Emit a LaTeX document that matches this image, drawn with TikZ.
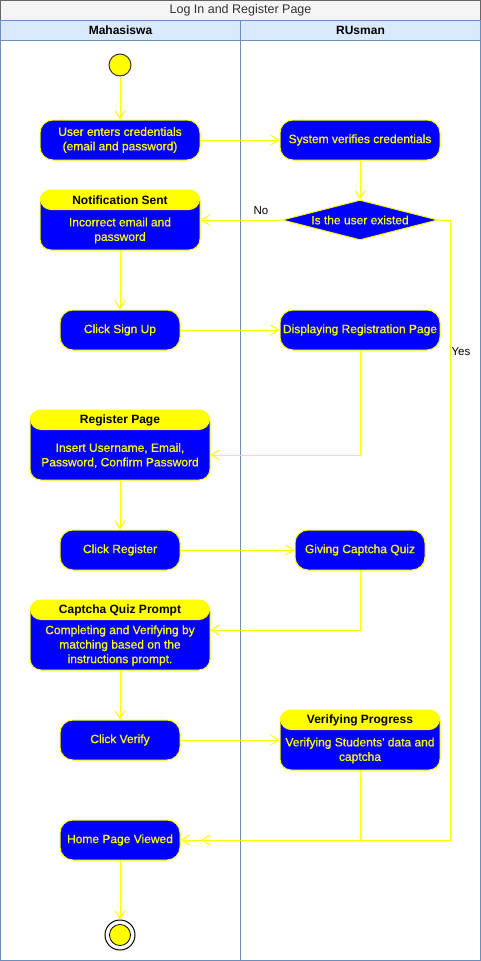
\documentclass[tikz,border=0pt]{standalone}
\usepackage{fontspec}
\setmainfont{Liberation Sans}
\newfontfamily\actfont[FakeBold=0.6]{Liberation Sans}
\usetikzlibrary{arrows.meta,shapes.geometric}
\definecolor{ablue}{HTML}{0000FF}
\definecolor{ayel}{HTML}{FFFF00}
\definecolor{lanebd}{HTML}{6C8EBF}
\definecolor{lanehd}{HTML}{DAE8FC}
\definecolor{titlebg}{HTML}{F5F5F5}
\definecolor{titlebd}{HTML}{666666}
\definecolor{titletx}{HTML}{333333}
\begin{document}
\begin{tikzpicture}[x=1pt,y=-1pt,
  act/.style={rectangle, rounded corners=13pt, draw=ayel, fill=ablue, line width=1pt,
    text=ayel, font=\actfont\fontsize{12}{14.5}\selectfont, align=center, inner sep=0pt},
  swim/.style={rectangle, rounded corners=11pt, draw=ayel, fill=ablue, line width=1pt, inner sep=0pt,
    path picture={\fill[ayel] (path picture bounding box.north west) rectangle ([yshift=-20pt]path picture bounding box.north east);}},
  swimhead/.style={font=\fontsize{12}{14}\selectfont\bfseries, text=black, inner sep=0pt},
  swimbody/.style={font=\actfont\fontsize{12}{14.5}\selectfont, text=ayel, align=center, inner sep=0pt},
  dec/.style={diamond, aspect=3.9, draw=ayel, fill=ablue, line width=1pt, inner sep=0pt,
    minimum width=156pt, minimum height=40pt, text=ayel, font=\actfont\fontsize{12}{14}\selectfont},
  flow/.style={draw=ayel, line width=1pt, -{Straight Barb[length=8pt,width=10pt]}},
  lbl/.style={font=\fontsize{11.5}{13}\selectfont, text=black, inner sep=0pt},
  lanehead/.style={font=\fontsize{12}{14}\selectfont\bfseries, text=black, inner sep=0pt}
]
\useasboundingbox (0,0) rectangle (481,961);
% pool and lanes
\draw[titlebd, fill=titlebg, line width=1pt] (0.5,0.5) rectangle (480.5,20.5);
\node[font=\fontsize{12.5}{14}\selectfont, text=titletx, inner sep=0pt] (title) at (240.5,10.5) {Log In and Register Page};
\draw[lanebd, fill=lanehd, line width=1pt] (0.5,20.5) rectangle (240.5,40.5);
\draw[lanebd, fill=lanehd, line width=1pt] (240.5,20.5) rectangle (480.5,40.5);
\draw[lanebd, line width=1pt] (0.5,40.5) rectangle (240.5,960.5);
\draw[lanebd, line width=1pt] (240.5,40.5) rectangle (480.5,960.5);
\node[lanehead] (laneA) at (120.5,30.5) {Mahasiswa};
\node[lanehead] (laneB) at (360.5,30.5) {RUsman};

% nodes
\node[circle, minimum size=22pt, inner sep=0pt, fill=ayel, draw=titletx, line width=1pt] (start) at (120,65) {};
\node[act, minimum width=160pt, minimum height=40pt] (n1) at (120,140) {User enters credentials\\(email and password)};
\node[act, minimum width=160pt, minimum height=40pt] (n2) at (360,140) {System verifies credentials};
\node[dec] (d1) at (360,220) {Is the user existed};

\node[swim, minimum width=160pt, minimum height=60pt] (notif) at (120,220) {};
\node[swimhead] (notifh) at (120,200.5) {Notification Sent};
\node[swimbody] (notifb) at (120,230.5) {Incorrect email and\\password};

\node[act, minimum width=120pt, minimum height=40pt] (signup) at (120,330) {Click Sign Up};
\node[act, minimum width=160pt, minimum height=40pt] (disp) at (360,330) {Displaying Registration Page};

\node[swim, minimum width=180pt, minimum height=70pt] (reg) at (120,445) {};
\node[swimhead] (regh) at (120,420.5) {Register Page};
\node[swimbody] (regb) at (120,455.5) {Insert Username, Email,\\Password, Confirm Password};

\node[act, minimum width=120pt, minimum height=40pt] (clickreg) at (120,550) {Click Register};
\node[act, minimum width=130pt, minimum height=40pt] (captcha) at (360,550) {Giving Captcha Quiz};

\node[swim, minimum width=180pt, minimum height=70pt] (prompt) at (120,635) {};
\node[swimhead] (prompth) at (120,610.5) {Captcha Quiz Prompt};
\node[swimbody] (promptb) at (120,645.5) {Completing and Verifying by\\matching based on the\\instructions prompt.};

\node[act, minimum width=120pt, minimum height=40pt] (verify) at (120,740) {Click Verify};

\node[swim, minimum width=160pt, minimum height=60pt] (vprog) at (360,740) {};
\node[swimhead] (vprogh) at (360,720.5) {Verifying Progress};
\node[swimbody] (vprogb) at (360,750.5) {Verifying Students' data and\\captcha};

\node[act, minimum width=120pt, minimum height=40pt] (home) at (120,840) {Home Page Viewed};

\node[circle, minimum size=30pt, inner sep=0pt, fill=white, draw=black, line width=1pt] (endo) at (120,935) {};
\node[circle, minimum size=21pt, inner sep=0pt, fill=ayel, draw=black, line width=0.8pt] (endi) at (endo.center) {};

% labels
\node[lbl] (no) at (261,211) {No};
\node[lbl] (yes) at (461,351.5) {Yes};

% connectors
\coordinate (yesc) at (450.5,840);
\coordinate (vmerge) at (201,840);
\draw[flow] (start) -- (n1);
\draw[flow] (n1) -- (n2);
\draw[flow] (n2) -- (d1);
\draw[flow] (d1) -- (notif);
\draw[flow] (d1.east) -| (yesc) -- (home.east);
\draw[flow] (notif) -- (signup);
\draw[flow] (signup) -- (disp);
\draw[flow] (disp.south) |- ([yshift=-10pt]reg.east);
\draw[flow] (reg) -- (clickreg);
\draw[flow] (clickreg) -- (captcha);
\draw[flow] (captcha.south) |- ([yshift=5pt]prompt.east);
\draw[flow] (prompt) -- (verify);
\draw[flow] (verify) -- (vprog);
\draw[flow] (vprog.south) |- (vmerge);
\draw[flow] (home) -- (endo);
\end{tikzpicture}
\end{document}
